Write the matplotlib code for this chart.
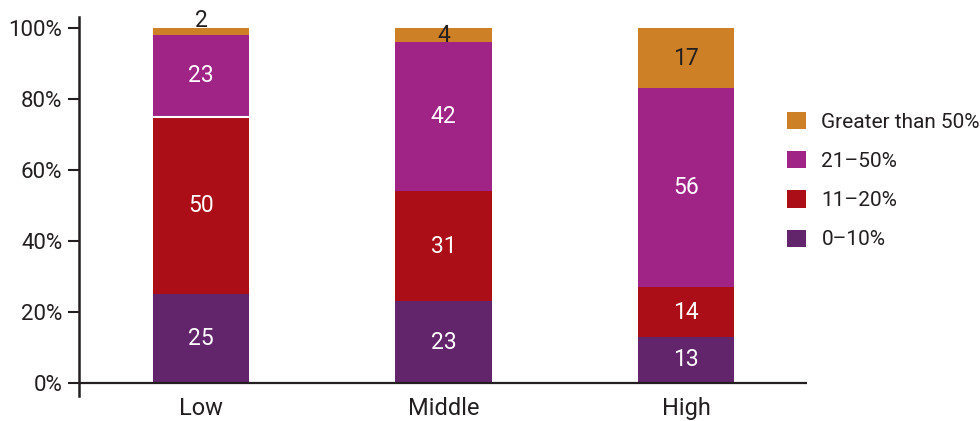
import matplotlib
matplotlib.use("Agg")
import matplotlib.pyplot as plt
from matplotlib.patches import Patch
import numpy as np

categories = ["Low", "Middle", "High"]
series_names = ["0–10%", "11–20%", "21–50%", "Greater than 50%"]
v_0_10 = [25, 23, 13]
v_11_20 = [50, 31, 14]
v_21_50 = [23, 42, 56]
v_gt_50 = [2, 4, 17]
yticks = [0, 20, 40, 60, 80, 100]
ytick_labels = ["0%", "20%", "40%", "60%", "80%", "100%"]

colors = ["#62246A", "#AB0E17", "#A02386", "#CE8027"]
text_colors = ["white", "white", "white", "#231F20"]
dark = "#231F20"

plt.rcParams['font.family'] = ['Roboto', 'DejaVu Sans']

fig = plt.figure(figsize=(9.8, 4.21), dpi=100)
ax = fig.add_axes([79/980, 25/421, 728/980, 379/421])

x = np.arange(len(categories))
width = 0.396
series = [v_0_10, v_11_20, v_21_50, v_gt_50]
bottom = np.zeros(len(categories))
for i, vals in enumerate(series):
    vals = np.array(vals, dtype=float)
    ax.bar(x, vals, width, bottom=bottom, color=colors[i], edgecolor='none', zorder=2)
    for j in range(len(categories)):
        if vals[j] < 3:
            ax.text(x[j], bottom[j] + vals[j] + 0.3, f"{int(vals[j])}", ha='center', va='baseline',
                    color=dark, fontsize=16.5, zorder=4)
        else:
            ax.text(x[j], bottom[j] + vals[j] / 2, f"{int(vals[j])}", ha='center', va='center',
                    color=text_colors[i], fontsize=16.5, zorder=4)
    bottom = bottom + vals

# white separator line in Low bar between 11-20% and 21-50%
low_sep = v_0_10[0] + v_11_20[0]
ax.hlines(low_sep, x[0] - width / 2, x[0] + width / 2, colors='white', linewidth=1.5, zorder=3)

ax.set_xlim(-0.503, 2.499)
ax.set_ylim(-3.66, 103.1)
ax.axhline(0, color=dark, linewidth=1.6, zorder=3)

ax.set_yticks(yticks)
ax.set_yticklabels(ytick_labels, fontsize=16, color=dark)
ax.set_xticks(x)
ax.set_xticklabels(categories, fontsize=17, color=dark)
ax.tick_params(axis='y', length=8, width=1.5, color=dark, pad=4)
ax.tick_params(axis='x', length=0, pad=1)

for s in ['top', 'right', 'bottom']:
    ax.spines[s].set_visible(False)
ax.spines['left'].set_color(dark)
ax.spines['left'].set_linewidth(1.8)

handles = [Patch(facecolor=colors[i], edgecolor='none', label=series_names[i]) for i in range(3, -1, -1)]
leg = fig.legend(handles=handles, loc='upper left', bbox_to_anchor=(787/980, 1 - 112/421),
                 frameon=False, fontsize=15, handlelength=0.9, handleheight=0.9,
                 handletextpad=0.75, labelspacing=0.93, borderpad=0, borderaxespad=0)
for t in leg.get_texts():
    t.set_color(dark)

fig.savefig("out.png", dpi=100)
